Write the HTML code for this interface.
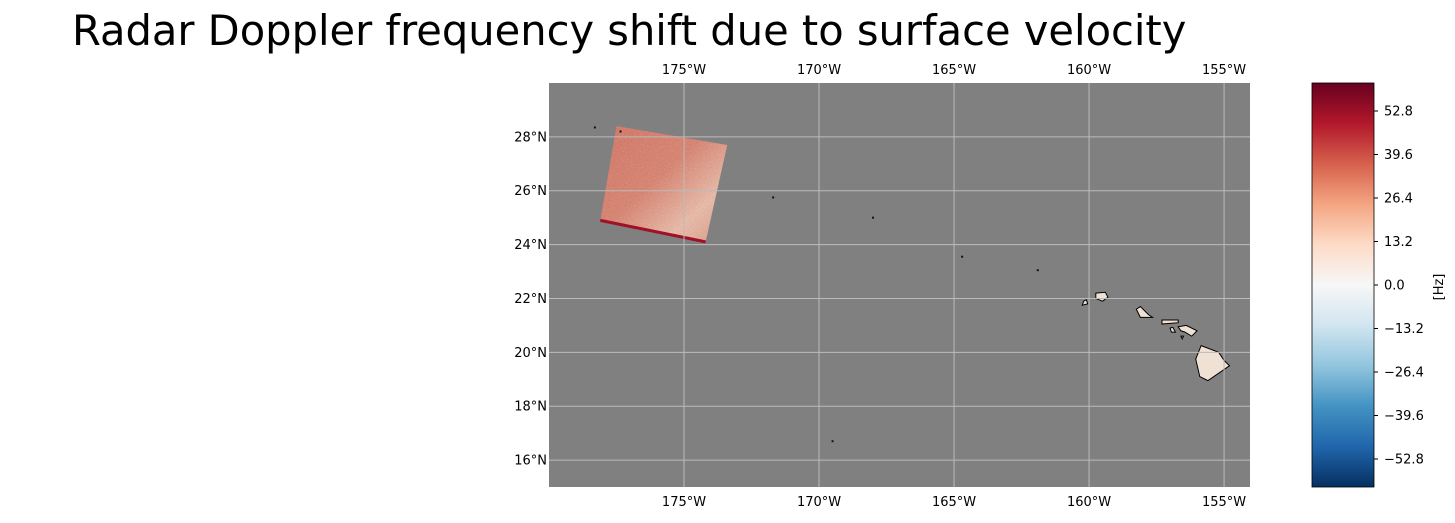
<!DOCTYPE html>
<html><head><meta charset="utf-8"><style>
body{margin:0;background:#fff;font-family:"Liberation Sans","DejaVu Sans",sans-serif;}
svg text{font-family:"DejaVu Sans","Liberation Sans",sans-serif;}
</style></head><body>
<svg id="chart" width="1455" height="518" xmlns="http://www.w3.org/2000/svg">
<defs>
<linearGradient id="cbgrad" x1="0" y1="1" x2="0" y2="0">
<stop offset="0" stop-color="#053061"/><stop offset="0.1" stop-color="#2166ac"/><stop offset="0.2" stop-color="#4393c3"/><stop offset="0.3" stop-color="#92c5de"/><stop offset="0.4" stop-color="#d1e5f0"/><stop offset="0.5" stop-color="#f7f7f7"/><stop offset="0.6" stop-color="#fddbc7"/><stop offset="0.7" stop-color="#f4a582"/><stop offset="0.8" stop-color="#d6604d"/><stop offset="0.9" stop-color="#b2182b"/><stop offset="1" stop-color="#67001f"/>
</linearGradient>
<linearGradient id="swathgrad" x1="0" y1="0" x2="1" y2="1">
<stop offset="0" stop-color="#d66c5a"/><stop offset="0.45" stop-color="#db7b66"/><stop offset="0.75" stop-color="#eeb9a4"/><stop offset="1" stop-color="#e0957e"/>
</linearGradient>
<filter id="noise"><feTurbulence type="fractalNoise" baseFrequency="0.7" numOctaves="2" result="n"/><feColorMatrix type="saturate" values="0"/><feComponentTransfer><feFuncA type="table" tableValues="0 0.35"/></feComponentTransfer><feComposite in2="SourceGraphic" operator="in"/></filter>
</defs>
<text x="72" y="45" font-size="41.6" fill="#000" style="font-family:'DejaVu Sans',sans-serif">Radar Doppler frequency shift due to surface velocity</text>
<g id="map"></g>
<g id="cb"></g>
</svg>
<script>
const lonTicks=[-175,-170,-165,-160,-155];
const latTicks=[16,18,20,22,24,26,28];
const cbTicks=[-52.8,-39.6,-26.4,-13.2,0.0,13.2,26.4,39.6,52.8];
const lonRange=[-180,-154.04];
const latRange=[15,30];
const cbRange=[-61.3,61.3];
const swathCorners=[[-177.5,28.4],[-173.4,27.7],[-174.2,24.1],[-178.1,24.9]];
const islands=[
 [[-160.2,21.9],[-160.1,21.95],[-160.05,21.8],[-160.25,21.75]],
 [[-159.75,22.2],[-159.4,22.23],[-159.3,22.05],[-159.5,21.9],[-159.75,22.0]],
 [[-158.25,21.6],[-158.1,21.7],[-157.8,21.4],[-157.65,21.3],[-158.1,21.3]],
 [[-157.3,21.2],[-156.7,21.2],[-156.7,21.1],[-157.3,21.05]],
 [[-157.0,20.9],[-156.9,20.93],[-156.8,20.75],[-156.95,20.75]],
 [[-156.7,20.95],[-156.4,21.0],[-156.0,20.8],[-156.2,20.6],[-156.45,20.75],[-156.6,20.8]],
 [[-156.6,20.6],[-156.5,20.6],[-156.55,20.5]],
 [[-155.85,20.25],[-155.2,20.0],[-155.0,19.7],[-154.8,19.5],[-155.6,18.95],[-155.9,19.1],[-156.05,19.75]]
];
const dots=[[-178.3,28.35],[-177.35,28.2],[-171.7,25.75],[-168.0,25.0],[-164.7,23.55],[-161.9,23.05],[-169.5,16.7]];
const L=549,R=1250,T=83,B=487;
const X=lon=>L+(lon-lonRange[0])/(lonRange[1]-lonRange[0])*(R-L);
const Y=lat=>B-(lat-latRange[0])/(latRange[1]-latRange[0])*(B-T);
const NS="http://www.w3.org/2000/svg";
function mk(tag,attrs,parent){const e=document.createElementNS(NS,tag);for(const k in attrs)e.setAttribute(k,attrs[k]);parent.appendChild(e);return e;}
const map=document.getElementById('map');
const bg=mk('rect',{x:L,y:T,width:R-L,height:B-T,fill:'#808080'},map);


const pts=swathCorners.map(c=>X(c[0])+','+Y(c[1])).join(' ');
const sw=mk('polygon',{points:pts,fill:'url(#swathgrad)'},map);


const swn=mk('polygon',{points:pts,fill:'#fff',filter:'url(#noise)'},map);


const eb=mk('line',{x1:X(swathCorners[3][0]),y1:Y(swathCorners[3][1]),x2:X(swathCorners[2][0]),y2:Y(swathCorners[2][1]),stroke:'#a01028','stroke-width':3},map);


dots.forEach(d=>{const c=mk('rect',{x:X(d[0])-1,y:Y(d[1])-1,width:2,height:2,fill:'#111'},map);

});
islands.forEach(is=>{const p=mk('polygon',{points:is.map(c=>X(c[0])+','+Y(c[1])).join(' '),fill:'#efe2d4',stroke:'#000','stroke-width':1},map);

});
lonTicks.forEach(v=>{const x=X(v);
const g=mk('line',{x1:x,y1:T,x2:x,y2:B,stroke:'#bbb','stroke-width':1},map);


[[T-9,'top'],[B+19,'bottom']].forEach(([y,pos])=>{const t=mk('text',{x:x,y:y,'font-size':13,'text-anchor':'middle',fill:'#000'},map);t.textContent=Math.abs(v)+'°W';

});});
latTicks.forEach(v=>{const y=Y(v);
const g=mk('line',{x1:L,y1:y,x2:R,y2:y,stroke:'#bbb','stroke-width':1},map);


const t=mk('text',{x:L-2,y:y+4.5,'font-size':13,'text-anchor':'end',fill:'#000'},map);t.textContent=v+'°N';

});
const cb=document.getElementById('cb');
const CL=1312,CR=1374;
const CY=v=>B-(v-cbRange[0])/(cbRange[1]-cbRange[0])*(B-T);
const cr=mk('rect',{x:CL,y:T,width:CR-CL,height:B-T,fill:'url(#cbgrad)',stroke:'#000','stroke-width':0.8},cb);


cbTicks.forEach(v=>{const y=CY(v);
const tk=mk('line',{x1:CR,y1:y,x2:CR+4,y2:y,stroke:'#000'},cb);


const t=mk('text',{x:CR+10,y:y+4.5,'font-size':13,fill:'#000'},cb);
t.textContent=(v<0?'\u2212':'')+Math.abs(v).toFixed(1);

});
const ul=mk('text',{x:1443,y:287,'font-size':13,'text-anchor':'middle',fill:'#000',transform:'rotate(-90 1443 287)'},cb);
ul.textContent='[Hz]';


</script>
</body></html>
